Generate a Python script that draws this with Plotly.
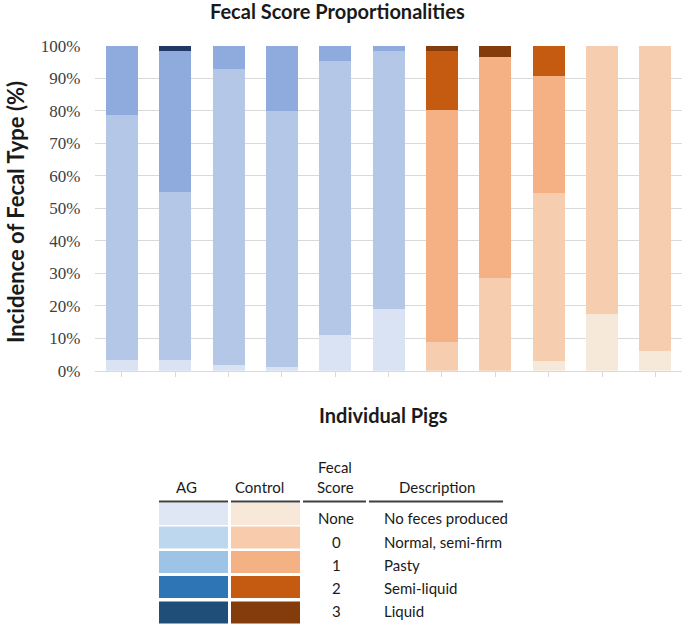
import plotly.graph_objects as go

W, H = 685, 627

# ---- data (percent of observations per pig) ----
pigs = ["AG 1", "AG 2", "AG 3", "AG 4", "AG 5", "AG 6",
        "Control 1", "Control 2", "Control 3", "Control 4", "Control 5"]
groups = ["AG"] * 6 + ["Control"] * 5
score_none = [3.3, 3.3, 1.7, 1.2, 11.0, 19.1, 0.0, 0.0, 3.0, 17.4, 6.1]
score_0 = [75.3, 51.8, 91.1, 78.7, 84.2, 79.4, 8.9, 28.4, 51.7, 82.6, 93.9]
score_1 = [21.4, 43.4, 7.2, 20.1, 4.8, 1.5, 71.3, 68.0, 36.1, 0.0, 0.0]
score_2 = [0.0, 0.0, 0.0, 0.0, 0.0, 0.0, 18.3, 0.0, 9.2, 0.0, 0.0]
score_3 = [0.0, 1.5, 0.0, 0.0, 0.0, 0.0, 1.5, 3.6, 0.0, 0.0, 0.0]

score_labels = ["None", "0", "1", "2", "3"]
descriptions = ["No feces produced", "Normal, semi-firm", "Pasty", "Semi-liquid", "Liquid"]
y_ticks = [0, 10, 20, 30, 40, 50, 60, 70, 80, 90, 100]

# colours of bar segments
bar_colors = {
    "AG": ["#DAE3F3", "#B4C7E7", "#8FAADC", "#2F5597", "#203864"],
    "Control": ["#F7E9DA", "#F6CDAE", "#F5B183", "#C55A11", "#843C0C"],
}
# colours of key table swatches
key_colors = {
    "AG": ["#DFE6F4", "#BDD7EE", "#9DC3E6", "#2E75B6", "#1F4E79"],
    "Control": ["#F8E8D9", "#F8CBAD", "#F4B183", "#C55A11", "#843C0C"],
}

series = [score_none, score_0, score_1, score_2, score_3]


def X(px):
    return px / W


def Y(py):
    return 1 - py / H


fig = go.Figure()
for k, vals in enumerate(series):
    fig.add_trace(go.Bar(
        x=pigs, y=vals, name=score_labels[k],
        marker=dict(color=[bar_colors[g][k] for g in groups], line=dict(width=0)),
        width=0.6, showlegend=False,
    ))

LATO = "Lato"
annotations = []
shapes = []

# title
annotations.append(dict(x=X(337), y=Y(11), xref="paper", yref="paper",
                        text="<b>Fecal Score Proportionalities</b>", showarrow=False,
                        font=dict(family=LATO, size=20, color="#1a1a1a"),
                        xanchor="center", yanchor="middle", borderpad=0))
# y axis title
annotations.append(dict(x=X(15), y=Y(212), xref="paper", yref="paper",
                        text="<b>Incidence of Fecal Type (%)</b>", showarrow=False,
                        textangle=-90,
                        font=dict(family=LATO, size=22, color="#1a1a1a"),
                        xanchor="center", yanchor="middle"))
# x axis title
annotations.append(dict(x=X(383), y=Y(415), xref="paper", yref="paper",
                        text="<b>Individual Pigs</b>", showarrow=False,
                        font=dict(family=LATO, size=20, color="#1a1a1a"),
                        xanchor="center", yanchor="middle"))

# ---- key table ----
txt_font = dict(family=LATO, size=15, color="#1a1a1a")
headers = [("AG", 187, 487), ("Control", 259, 487), ("Fecal", 335, 467),
           ("Score", 335, 487), ("Description", 437, 487)]
for t, hx, hy in headers:
    annotations.append(dict(x=X(hx), y=Y(hy), xref="paper", yref="paper", text=t,
                            showarrow=False, font=txt_font,
                            xanchor="center", yanchor="middle"))
for x0, x1 in [(159, 228), (231, 300), (303, 366), (369, 503)]:
    shapes.append(dict(type="line", xref="paper", yref="paper",
                       x0=X(x0), x1=X(x1), y0=Y(501.5), y1=Y(501.5),
                       line=dict(color="#404040", width=2)))

row_centers = [514, 537.5, 562, 587, 612.5]
text_centers = [518, 541.5, 565, 588, 611]
for i in range(5):
    yc = row_centers[i]
    for g, (x0, x1) in [("AG", (159, 228)), ("Control", (231, 300))]:
        shapes.append(dict(type="rect", xref="paper", yref="paper",
                           x0=X(x0), x1=X(x1), y0=Y(yc + 11), y1=Y(yc - 11),
                           fillcolor=key_colors[g][i], line=dict(width=0)))
    annotations.append(dict(x=X(336), y=Y(text_centers[i]), xref="paper", yref="paper",
                            text=score_labels[i], showarrow=False, font=txt_font,
                            xanchor="center", yanchor="middle"))
    annotations.append(dict(x=X(382), y=Y(text_centers[i]), xref="paper", yref="paper",
                            text=descriptions[i], showarrow=False, font=txt_font,
                            xanchor="left", yanchor="middle"))

fig.update_layout(
    width=W, height=H,
    autosize=False,
    margin=dict(l=0, r=0, t=0, b=0, pad=0, autoexpand=False),
    paper_bgcolor="white", plot_bgcolor="white",
    barmode="stack", bargap=0.4,
    annotations=annotations, shapes=shapes,
    xaxis=dict(domain=[X(95.3), X(682)], range=[-0.5, 10.5],
               showticklabels=False, ticks="outside", ticklen=5,
               tickcolor="#D9D9D9", tickwidth=1,
               showline=True, linecolor="#D9D9D9", linewidth=1.3,
               showgrid=False, fixedrange=True, automargin=False),
    yaxis=dict(domain=[Y(370.7), Y(45.7)], range=[0, 100],
               tickvals=y_ticks, ticktext=[f"{v}%" for v in y_ticks],
               tickfont=dict(family="Liberation Serif", size=17, color="#404040"),
               showgrid=True, gridcolor="#D9D9D9", gridwidth=1.3,
               zeroline=False, showline=False, ticks="",
               ticklabelstandoff=14, fixedrange=True, automargin=False),
)

fig.write_html(
    "out.html",
    config={"displayModeBar": False},
    post_script="document.body.style.margin='0';document.body.style.padding='0';",
)
